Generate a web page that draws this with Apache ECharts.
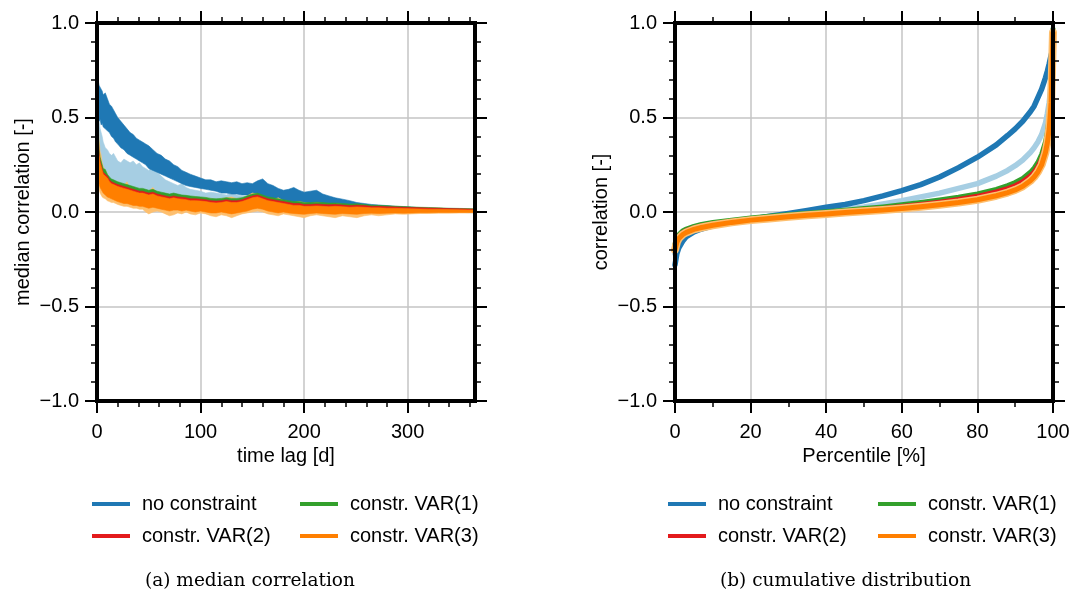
<!DOCTYPE html>
<html><head><meta charset="utf-8">
<script src="https://cdn.jsdelivr.net/npm/echarts@6/dist/echarts.min.js"></script>
<style>html,body{margin:0;padding:0;background:#fff}#c{width:1075px;height:594px}</style>
</head><body><div id="c"></div>
<script>
// ---------- left panel: median correlation vs time lag ----------
const lags = [0,1,2,3,4,5,6,8,10,12, 14,16,18,20,23,26,29,32,35,38, 41,44,47,50,54,58,62,66,70,74,
  78,82,86,90,95,100,105,110,115,120, 125,130,135,140,145,150,155,160,165,170,
  175,180,185,190,195,200,206,212,218,224, 230,237,244,251,258,265,272,280,288,296, 304,312,320,330,340,350,358,365];

const blueLo = [0.50,0.49,0.48,0.49,0.46,0.47,0.45,0.44,0.43,0.42, 0.40,0.39,0.37,0.36,0.34,0.33,0.31,0.30,0.29,0.28,
  0.27,0.26,0.25,0.23,0.22,0.21,0.20,0.19,0.18,0.17, 0.16,0.15,0.14,0.135,0.13,0.125,0.12,0.115,0.11,0.10,
  0.10,0.095,0.095,0.09,0.09,0.085,0.08,0.08,0.075,0.07, 0.06,0.055,0.05,0.045,0.04,0.035,0.033,0.032,0.03,0.028,
  0.027,0.025,0.023,0.02,0.019,0.017,0.015,0.013,0.011,0.008, 0.006,0.004,0.002,0.001,0.0,-0.002,-0.003,-0.004];
const blueHi = [0.80,0.70,0.67,0.66,0.65,0.64,0.62,0.63,0.60,0.57, 0.56,0.54,0.52,0.50,0.48,0.46,0.44,0.42,0.41,0.39,
  0.38,0.37,0.36,0.35,0.33,0.31,0.30,0.28,0.27,0.25, 0.24,0.22,0.21,0.20,0.19,0.18,0.17,0.17,0.16,0.165,
  0.16,0.155,0.16,0.15,0.155,0.15,0.165,0.175,0.15,0.14, 0.125,0.115,0.12,0.13,0.115,0.105,0.11,0.115,0.095,0.085,
  0.075,0.068,0.06,0.05,0.045,0.04,0.037,0.034,0.03,0.028, 0.026,0.022,0.02,0.018,0.017,0.015,0.014,0.012];

const lightBlueLo = [0.40,0.32,0.30,0.28,0.26,0.25,0.23,0.21,0.19,0.17, 0.16,0.15,0.14,0.13,0.13,0.12,0.11,0.10,0.10,0.09,
  0.09,0.085,0.08,0.08,0.075,0.07,0.07,0.065,0.06,0.06, 0.06,0.055,0.05,0.05,0.05,0.045,0.045,0.04,0.04,0.04,
  0.035,0.035,0.035,0.03,0.03,0.03,0.03,0.03,0.025,0.025, 0.025,0.02,0.02,0.02,0.02,0.018,0.017,0.016,0.015,0.014,
  0.013,0.012,0.011,0.01,0.009,0.008,0.007,0.006,0.005,0.004, 0.003,0.002,0.001,0.0,0.0,-0.001,-0.001,-0.002];
const lightBlueHi = [0.72,0.55,0.48,0.44,0.42,0.40,0.37,0.34,0.33,0.31, 0.30,0.31,0.29,0.27,0.26,0.28,0.27,0.26,0.27,0.25,
  0.26,0.24,0.23,0.22,0.24,0.21,0.19,0.17,0.16,0.15, 0.14,0.15,0.13,0.12,0.115,0.11,0.10,0.105,0.10,0.095,
  0.09,0.10,0.09,0.085,0.08,0.085,0.09,0.08,0.075,0.07, 0.08,0.075,0.07,0.065,0.06,0.055,0.05,0.05,0.045,0.04,
  0.04,0.035,0.033,0.03,0.028,0.026,0.024,0.022,0.02,0.019, 0.018,0.016,0.015,0.014,0.013,0.012,0.011,0.01];

const lightOrangeLo = [0.20,0.14,0.12,0.10,0.09,0.08,0.075,0.07,0.06,0.055, 0.05,0.05,0.045,0.04,0.035,0.03,0.03,0.025,0.02,0.02,
  0.015,0.015,0.0,-0.01,0.0,0.005,0.0,-0.01,-0.02,-0.015, -0.005,-0.01,0.0,-0.01,-0.015,-0.005,-0.01,-0.02,-0.025,-0.015,
  -0.02,-0.03,-0.02,-0.01,-0.005,0.0,0.005,0.0,-0.01,-0.015, -0.02,-0.01,-0.015,-0.02,-0.025,-0.03,-0.02,-0.015,-0.02,-0.025,
  -0.03,-0.02,-0.025,-0.03,-0.02,-0.015,-0.02,-0.015,-0.01,-0.012, -0.01,-0.008,-0.008,-0.006,-0.006,-0.005,-0.005,-0.004];
const lightOrangeHi = [0.78,0.50,0.38,0.32,0.30,0.26,0.24,0.22,0.20,0.17, 0.16,0.15,0.14,0.15,0.13,0.14,0.16,0.12,0.11,0.12,
  0.10,0.11,0.10,0.11,0.13,0.10,0.09,0.08,0.085,0.09, 0.08,0.085,0.08,0.075,0.08,0.07,0.075,0.07,0.065,0.07,
  0.075,0.08,0.07,0.065,0.085,0.10,0.095,0.08,0.07,0.065, 0.075,0.06,0.055,0.05,0.055,0.05,0.045,0.05,0.045,0.04,
  0.045,0.04,0.035,0.04,0.035,0.03,0.03,0.025,0.025,0.022, 0.02,0.02,0.018,0.016,0.015,0.014,0.013,0.012];

const greenLo = [0.45,0.33,0.26,0.23,0.21,0.20,0.18,0.17,0.155,0.145, 0.135,0.13,0.125,0.12,0.115,0.11,0.105,0.10,0.095,0.09,
  0.088,0.087,0.082,0.078,0.082,0.076,0.07,0.065,0.06,0.065, 0.06,0.058,0.055,0.052,0.05,0.048,0.045,0.042,0.04,0.042,
  0.044,0.04,0.04,0.045,0.055,0.063,0.066,0.058,0.05,0.045, 0.04,0.035,0.03,0.028,0.026,0.024,0.024,0.026,0.024,0.022,
  0.023,0.021,0.019,0.02,0.018,0.016,0.016,0.014,0.013,0.012, 0.011,0.01,0.009,0.008,0.007,0.006,0.005,0.005];
const greenHi = [0.77,0.44,0.33,0.29,0.27,0.25,0.23,0.225,0.20,0.185, 0.175,0.17,0.165,0.16,0.155,0.15,0.145,0.14,0.135,0.13,
  0.125,0.125,0.12,0.115,0.12,0.11,0.105,0.10,0.095,0.10, 0.095,0.09,0.088,0.085,0.082,0.08,0.077,0.072,0.07,0.072,
  0.076,0.072,0.072,0.076,0.086,0.095,0.10,0.09,0.08,0.075, 0.07,0.065,0.06,0.055,0.055,0.05,0.05,0.052,0.05,0.047,
  0.048,0.045,0.042,0.043,0.04,0.036,0.035,0.033,0.031,0.029, 0.027,0.025,0.024,0.022,0.02,0.019,0.018,0.017];

const redLo = [0.40,0.30,0.24,0.21,0.19,0.18,0.16,0.15,0.14,0.13, 0.12,0.115,0.11,0.105,0.10,0.095,0.09,0.085,0.08,0.08,
  0.075,0.075,0.07,0.065,0.07,0.065,0.06,0.055,0.05,0.055, 0.05,0.048,0.045,0.042,0.04,0.04,0.036,0.032,0.03,0.032,
  0.035,0.03,0.03,0.035,0.045,0.055,0.058,0.05,0.04,0.035, 0.03,0.025,0.022,0.02,0.018,0.016,0.016,0.018,0.016,0.014,
  0.015,0.013,0.012,0.012,0.011,0.01,0.01,0.009,0.008,0.007, 0.006,0.006,0.005,0.005,0.004,0.004,0.003,0.003];
const redHi = [0.76,0.42,0.31,0.27,0.25,0.23,0.21,0.20,0.19,0.17, 0.16,0.155,0.15,0.145,0.14,0.135,0.13,0.125,0.12,0.115,
  0.11,0.11,0.105,0.10,0.105,0.095,0.09,0.085,0.08,0.085, 0.08,0.078,0.075,0.07,0.07,0.068,0.065,0.06,0.058,0.06,
  0.065,0.06,0.06,0.065,0.075,0.085,0.09,0.08,0.07,0.065, 0.06,0.055,0.05,0.045,0.045,0.04,0.04,0.042,0.04,0.038,
  0.04,0.037,0.034,0.036,0.034,0.03,0.03,0.028,0.027,0.025, 0.024,0.022,0.021,0.02,0.018,0.017,0.016,0.015];

const orangeLo = [0.30,0.18,0.15,0.13,0.12,0.11,0.10,0.09,0.08,0.075, 0.07,0.065,0.06,0.055,0.05,0.045,0.045,0.04,0.035,0.035,
  0.03,0.03,0.025,0.02,0.025,0.02,0.015,0.01,0.005,0.01, 0.01,0.005,0.01,0.005,0.0,0.005,0.0,-0.005,-0.005,0.0,
  -0.005,-0.01,-0.005,0.0,0.005,0.015,0.02,0.015,0.005,0.0, -0.005,0.0,-0.005,-0.008,-0.01,-0.012,-0.008,-0.005,-0.008,-0.01,
  -0.012,-0.008,-0.01,-0.012,-0.008,-0.006,-0.008,-0.006,-0.005,-0.006, -0.005,-0.004,-0.004,-0.003,-0.003,-0.003,-0.003,-0.002];
const orangeHi = [0.75,0.40,0.30,0.26,0.24,0.22,0.20,0.19,0.18,0.16, 0.15,0.145,0.14,0.135,0.13,0.125,0.12,0.115,0.11,0.105,
  0.10,0.10,0.095,0.09,0.095,0.085,0.08,0.075,0.07,0.075, 0.07,0.068,0.065,0.06,0.06,0.058,0.055,0.05,0.048,0.05,
  0.055,0.05,0.05,0.055,0.065,0.075,0.08,0.07,0.06,0.055, 0.05,0.045,0.04,0.035,0.035,0.03,0.03,0.032,0.03,0.028,
  0.03,0.028,0.025,0.027,0.025,0.022,0.022,0.02,0.02,0.018, 0.017,0.016,0.015,0.014,0.013,0.012,0.011,0.01];

// ---------- right panel: cumulative distribution ----------
const pct = [0,0.5,1,2,3,5,7,10,15,20,25,30,35,40,45,50,55,60,65,70,75,80,85,88,90,92,94,95,96,97,98,98.5,99,99.5,100];
const cdfBlue = [-0.28,-0.22,-0.19,-0.155,-0.13,-0.105,-0.09,-0.073,-0.055,-0.038,-0.022,-0.008,0.008,0.025,0.04,0.06,0.085,0.113,0.145,0.185,0.235,0.29,0.355,0.405,0.44,0.48,0.53,0.56,0.605,0.65,0.71,0.745,0.785,0.83,0.87];
const cdfLightBlue = [-0.22,-0.17,-0.15,-0.125,-0.11,-0.09,-0.078,-0.065,-0.05,-0.036,-0.025,-0.015,-0.005,0.005,0.015,0.027,0.043,0.06,0.08,0.10,0.125,0.15,0.19,0.22,0.245,0.275,0.315,0.34,0.37,0.41,0.47,0.52,0.58,0.68,0.85];
const cdfGreen = [-0.17,-0.135,-0.12,-0.1,-0.09,-0.076,-0.066,-0.056,-0.043,-0.032,-0.023,-0.014,-0.006,0.001,0.009,0.018,0.027,0.038,0.05,0.063,0.078,0.096,0.12,0.14,0.156,0.178,0.21,0.232,0.262,0.305,0.37,0.42,0.5,0.64,0.97];
const cdfRed = [-0.185,-0.148,-0.13,-0.11,-0.099,-0.084,-0.074,-0.063,-0.049,-0.038,-0.029,-0.02,-0.012,-0.005,0.003,0.011,0.019,0.029,0.04,0.052,0.066,0.083,0.106,0.124,0.139,0.16,0.19,0.211,0.24,0.28,0.345,0.395,0.475,0.615,0.96];
const cdfOrange = [-0.20,-0.16,-0.14,-0.12,-0.108,-0.092,-0.082,-0.07,-0.055,-0.043,-0.034,-0.025,-0.017,-0.01,-0.003,0.004,0.011,0.019,0.028,0.038,0.05,0.065,0.086,0.103,0.117,0.136,0.165,0.185,0.212,0.25,0.315,0.365,0.44,0.58,0.95];

// ---------- ticks / labels ----------
const lagMajor = [0,100,200,300];
const lagMinor = [20,40,60,80,120,140,160,180,220,240,260,280,320,340,360];
const names = ['no constraint','constr. VAR(1)','constr. VAR(2)','constr. VAR(3)'];
const C = {blue:'#1f78b4', lblue:'#a6cee3', green:'#33a02c', red:'#e31a1c', orange:'#ff7f00', lorange:'#fdbf6f'};

const FONT = 'Liberation Sans';
const FS = 20;
const fmtY = v => (v < 0 ? '\u2212' : '') + Math.abs(v).toFixed(1);

// band drawn as one filled polygon, positioned through the axes with api.coord
function bandSeries(name, lo, hi, color) {
  return {
    type:'custom', name: name, xAxisIndex:0, yAxisIndex:0, silent:true, clip:true, color: color, z:2,
    encode:{x:0, y:[1,2]},
    data: lags.map((l,i)=>[l, lo[i], hi[i]]),
    renderItem: function (params, api) {
      if (params.dataIndex !== 0) return null;
      const pts = [];
      for (let i = 0; i < lags.length; i++) pts.push(api.coord([lags[i], hi[i]]));
      for (let i = lags.length - 1; i >= 0; i--) pts.push(api.coord([lags[i], lo[i]]));
      return {type:'polygon', shape:{points:pts}, style:{fill:color, stroke:color, lineWidth:0.6}};
    }
  };
}
function cdfSeries(name, vals, color, w) {
  return {type:'line', name: name, xAxisIndex:5, yAxisIndex:3, symbol:'none', silent:true, color: color,
    data: pct.map((p,i)=>[p, vals[i]]), lineStyle:{width:w, color: color, cap:'round', join:'round'}, z:2};
}

const frame = {onZero:false, lineStyle:{color:'#000', width:4, cap:'square'}};
const noLine = {show:false, onZero:false};
const tickMaj = {show:true, length:12, lineStyle:{color:'#000', width:2}};
const tickMin = {show:true, length:6, lineStyle:{color:'#000', width:1.5}};
const split = {show:true, lineStyle:{color:'#c4c4c4', width:1.5}};
const lbl = {color:'#000', fontSize:FS, fontFamily:FONT};
const nameStyle = {color:'#000', fontSize:FS, fontFamily:FONT};

const xAxes = [
  // left grid 0..4
  {gridIndex:0, type:'value', position:'bottom', min:0, max:365, interval:100, z:0,
   axisLine:noLine, axisTick:{show:false}, splitLine:split,
   axisLabel:Object.assign({margin:21, customValues:lagMajor}, lbl),
   name:'time lag [d]', nameLocation:'middle', nameGap:44, nameTextStyle:nameStyle},
  {gridIndex:0, type:'value', position:'bottom', min:0, max:365, interval:100, z:10,
   axisLine:frame, axisTick:Object.assign({customValues:lagMajor}, tickMaj), axisLabel:{show:false}, splitLine:{show:false}},
  {gridIndex:0, type:'value', position:'bottom', min:0, max:365, interval:20, z:10,
   axisLine:noLine, axisTick:Object.assign({customValues:lagMinor}, tickMin), axisLabel:{show:false}, splitLine:{show:false}},
  {gridIndex:0, type:'value', position:'top', min:0, max:365, interval:100, z:10,
   axisLine:frame, axisTick:Object.assign({customValues:lagMajor}, tickMaj), axisLabel:{show:false}, splitLine:{show:false}},
  {gridIndex:0, type:'value', position:'top', min:0, max:365, interval:20, z:10,
   axisLine:noLine, axisTick:Object.assign({customValues:lagMinor}, tickMin), axisLabel:{show:false}, splitLine:{show:false}},
  // right grid 5..7
  {gridIndex:1, type:'value', position:'bottom', min:0, max:100, interval:20, z:0,
   axisLine:noLine, axisTick:{show:false}, splitLine:split,
   axisLabel:Object.assign({margin:21}, lbl),
   name:'Percentile [%]', nameLocation:'middle', nameGap:44, nameTextStyle:nameStyle},
  {gridIndex:1, type:'value', position:'bottom', min:0, max:100, interval:20, z:10,
   axisLine:frame, axisTick:tickMaj, minorTick:Object.assign({splitNumber:2}, tickMin),
   axisLabel:{show:false}, splitLine:{show:false}},
  {gridIndex:1, type:'value', position:'top', min:0, max:100, interval:20, z:10,
   axisLine:frame, axisTick:tickMaj, minorTick:Object.assign({splitNumber:2}, tickMin),
   axisLabel:{show:false}, splitLine:{show:false}}
];
function yAxesFor(g, nm) {
  return [
    {gridIndex:g, type:'value', position:'left', min:-1, max:1, interval:0.5, z:0,
     axisLine:noLine, axisTick:{show:false}, splitLine:split,
     axisLabel:Object.assign({margin:18, formatter:fmtY}, lbl),
     name:nm, nameLocation:'middle', nameGap:64, nameTextStyle:nameStyle},
    {gridIndex:g, type:'value', position:'left', min:-1, max:1, interval:0.5, z:10,
     axisLine:frame, axisTick:tickMaj, minorTick:Object.assign({splitNumber:5}, tickMin),
     axisLabel:{show:false}, splitLine:{show:false}},
    {gridIndex:g, type:'value', position:'right', min:-1, max:1, interval:0.5, z:10,
     axisLine:frame, axisTick:tickMaj, minorTick:Object.assign({splitNumber:5}, tickMin),
     axisLabel:{show:false}, splitLine:{show:false}}
  ];
}
const yAxes = yAxesFor(0, 'median correlation [-]').concat(yAxesFor(1, 'correlation [-]'));

const series = [
  bandSeries('lb', lightBlueLo, lightBlueHi, C.lblue),
  bandSeries(names[0], blueLo, blueHi, C.blue),
  bandSeries('lo', lightOrangeLo, lightOrangeHi, C.lorange),
  bandSeries(names[1], greenLo, greenHi, C.green),
  bandSeries(names[2], redLo, redHi, C.red),
  bandSeries(names[3], orangeLo, orangeHi, C.orange),
  cdfSeries('lb2', cdfLightBlue, C.lblue, 5.5),
  cdfSeries(names[0], cdfBlue, C.blue, 5.5),
  cdfSeries(names[1], cdfGreen, C.green, 5),
  cdfSeries(names[2], cdfRed, C.red, 5),
  cdfSeries('lo2', cdfOrange, C.lorange, 8),
  cdfSeries(names[3], cdfOrange, C.orange, 5)
];

const colorOf = {};
colorOf[names[0]] = C.blue; colorOf[names[1]] = C.green; colorOf[names[2]] = C.red; colorOf[names[3]] = C.orange;
function legendCol(left, items) {
  return {orient:'vertical', left:left, top:489, itemWidth:38, itemHeight:4, itemGap:12, selectedMode:false,
    textStyle:{color:'#000', fontSize:FS, fontFamily:FONT, padding:[0,0,0,7]},
    data: items.map(n => ({name:n, icon:'rect', itemStyle:{color:colorOf[n]}}))};
}

const chart = echarts.init(document.getElementById('c'), null, {renderer:'canvas'});
chart.setOption({
  animation:false,
  backgroundColor:'#fff',
  grid:[
    {left:97, top:23, width:378, height:378},
    {left:675, top:23, width:378, height:378}
  ],
  xAxis:xAxes,
  yAxis:yAxes,
  legend:[
    legendCol(87, [names[0], names[2]]),
    legendCol(295, [names[1], names[3]]),
    legendCol(663, [names[0], names[2]]),
    legendCol(873, [names[1], names[3]])
  ],
  title:[
    {text:'(a) median correlation', left:140, top:567,
     textStyle:{fontFamily:'DejaVu Serif', fontSize:18.5, fontWeight:'normal', color:'#000'}},
    {text:'(b) cumulative distribution', left:715, top:567,
     textStyle:{fontFamily:'DejaVu Serif', fontSize:18.5, fontWeight:'normal', color:'#000'}}
  ],
  series:series
});
</script>
</body></html>
